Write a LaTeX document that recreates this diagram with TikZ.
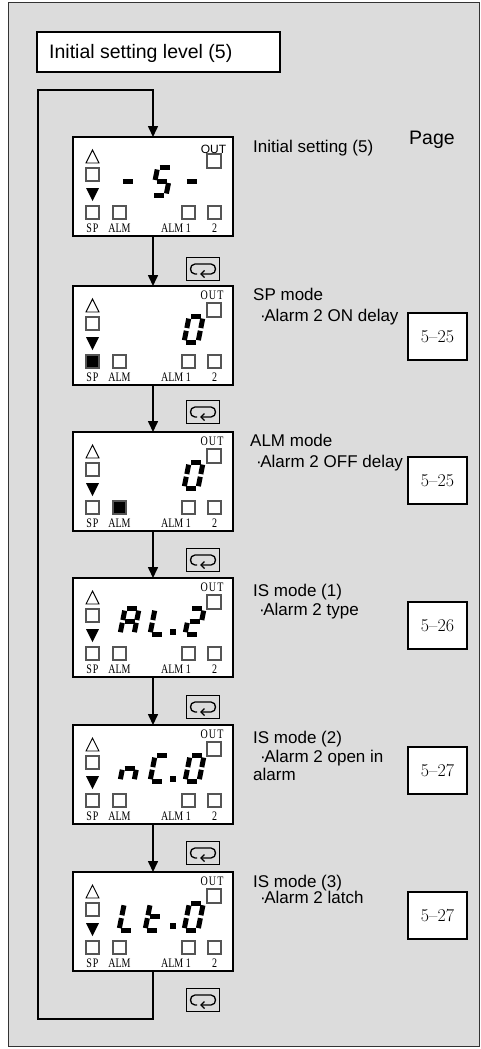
\documentclass[tikz,border=0pt]{standalone}
\usepackage{fontspec}
\setsansfont{Liberation Sans}
\newfontfamily\lcdfont[FakeStretch=0.77]{Liberation Serif}
\usetikzlibrary{arrows.meta}
\definecolor{bg}{HTML}{DCDCDC}
\definecolor{sqgray}{HTML}{555555}
\tikzset{
  lcdbox/.style={draw=black, line width=1.3pt, fill=white, minimum width=160pt, minimum height=99pt, inner sep=0pt, outer sep=0pt},
  keybox/.style={draw=black, line width=1pt, minimum width=33pt, minimum height=23pt, inner sep=0pt, outer sep=0pt},
  pagebox/.style={draw=black, line width=1.2pt, fill=white, minimum width=59pt, minimum height=47pt, inner sep=0pt, font=\rmfamily\fontsize{18}{20}\selectfont},
  lbl/.style={font=\sffamily\fontsize{17}{20}\selectfont, anchor=base west, inner sep=0pt},
  sq/.style={draw=sqgray, line width=1.1pt},
  lcdlbl/.style={font=\lcdfont\fontsize{13}{14}\selectfont, anchor=base, inner sep=0pt},
  flow/.style={line width=1.6pt, -{Triangle[width=10pt,length=11pt]}},
}
\newcommand\digit[4][1]{\begin{scope}[shift={(#2,#3)},x=1pt,y=#1pt,xslant=0.2,line width=5pt]
 \foreach \s in {#4}{\csname seg\s\endcsname}\end{scope}}
\def\sega{\draw (2,28)--(12,28);}
\def\segb{\draw (14,26)--(14,15.5);}
\def\segc{\draw (14,12.5)--(14,2);}
\def\segd{\draw (2,0)--(12,0);}
\def\sege{\draw (0,12.5)--(0,2);}
\def\segf{\draw (0,26)--(0,15.5);}
\def\segg{\draw (2,14)--(12,14);}
\newcommand\bul{·\kern-1.5pt}
\newcommand\lcdpanel[5]{%
  \begin{scope}[shift={(#1.north west)}]
    \draw[line width=0.9pt] (13,26)--(26,26)--(19.5,13)--cycle;
    \draw[sq] (13,31) rectangle (26,44);
    \fill (13,51)--(26,51)--(19.5,64)--cycle;
    \draw[sq,fill=#2] (13,69) rectangle (26,82);
    \draw[sq,fill=#3] (40,69) rectangle (53,82);
    \draw[sq] (109,69) rectangle (122,82);
    \draw[sq] (135,69) rectangle (148,82);
    \draw[sq] (134,17) rectangle (148,31);
    \node[lcdlbl] (#1-sp) at (19.5,95) {S\kern1pt P};
    \node[lcdlbl] (#1-alm) at (46.5,95) {ALM};
    \node[lcdlbl] (#1-alm1) at (103,95) {ALM\kern2.5pt 1};
    \node[lcdlbl] (#1-two) at (141.5,95) {2};
    #4
    #5
  \end{scope}}
\newcommand\sansout[1]{\node[font=\sffamily\fontsize{12}{13}\selectfont, anchor=base, inner sep=0pt] (#1-out) at (140.5,16) {OUT};}
\newcommand\serifout[1]{\node[lcdlbl] (#1-out) at (139,13) {O\kern1.2pt U\kern1.2pt T};}
\newcommand\dotseg{\fill (97,51) rectangle (103,57);}
\newcommand\keyicon[1]{%
  \begin{scope}[shift={(#1.north west)}, line width=1.3pt]
    \draw (11,17) -- (9,17) .. controls (3,17) and (3,7) .. (9,7) -- (25,7) .. controls (31,7) and (31,17) .. (25,17) -- (15,17);
    \draw (18.5,13.5) -- (15,17) -- (18.5,20.5);
  \end{scope}}
\begin{document}
\begin{tikzpicture}[x=1pt,y=-1pt]
\useasboundingbox (0,0) rectangle (481,1049);
\fill[white] (0,0) rectangle (481,1049);
\draw[fill=bg, draw=black!80, line width=1pt] (8.5,3) rectangle (479.5,1046);

\node[draw=black, line width=1.2pt, fill=white, minimum width=243pt, minimum height=40pt, inner sep=0pt] (title) at (158.5,52) {};
\node[font=\sffamily\fontsize{19.5}{22}\selectfont, anchor=base west, inner sep=0pt] (titletext) at (49,59) {Initial setting level (5)};
\node[font=\sffamily\fontsize{19.5}{22}\selectfont, anchor=base west, inner sep=0pt] (page) at (409,144) {Page};

% LCD displays
\node[lcdbox] (l1) at (153,186.5) {};
\node[lcdbox] (l2) at (153,335.5) {};
\node[lcdbox] (l3) at (153,481.5) {};
\node[lcdbox] (l4) at (153,627.5) {};
\node[lcdbox] (l5) at (153,774.5) {};
\node[lcdbox] (l6) at (153,921.5) {};

\lcdpanel{l1}{white}{white}{\sansout{l1}}{\digit{45}{58.5}{g}\digit{79}{58.5}{a,f,g,c,d}\digit{109}{58.5}{g}}
\lcdpanel{l2}{black}{white}{\serifout{l2}}{\digit[0.9]{111}{56}{a,b,c,d,e,f}}
\lcdpanel{l3}{white}{black}{\serifout{l3}}{\digit[0.9]{111}{56}{a,b,c,d,e,f}}
\lcdpanel{l4}{white}{white}{\serifout{l4}}{\digit[0.9]{47}{56}{a,b,c,e,f,g}\digit[0.9]{77}{56}{d,e,f}\dotseg\digit[0.9]{112}{56}{a,b,g,e,d}}
\lcdpanel{l5}{white}{white}{\serifout{l5}}{\digit[0.9]{47}{56}{c,e,g}\digit[0.9]{77}{56}{a,d,e,f}\dotseg\digit[0.9]{112}{56}{a,b,c,d,e,f}}
\lcdpanel{l6}{white}{white}{\serifout{l6}}{\digit[0.95]{46}{58}{d,e,f}\digit[0.95]{72}{58}{d,e,f,g}\dotseg\digit[0.95]{111}{58}{a,b,c,d,e,f}}

% key icons
\node[keybox] (k1) at (202.5,268.5) {};
\node[keybox] (k2) at (202.5,411.5) {};
\node[keybox] (k3) at (202.5,559.5) {};
\node[keybox] (k4) at (202.5,706.5) {};
\node[keybox] (k5) at (202.5,852.5) {};
\node[keybox] (k6) at (202.5,999.5) {};
\foreach \k in {k1,k2,k3,k4,k5,k6}{\keyicon{\k}}

% connectors
\coordinate (lt) at (38,90);
\coordinate (lb) at (38,1019);
\draw[flow] (l6.south) |- (lb) -- (lt) -| (l1.north);
\draw[flow] (l1.south) -- (l2.north);
\draw[flow] (l2.south) -- (l3.north);
\draw[flow] (l3.south) -- (l4.north);
\draw[flow] (l4.south) -- (l5.north);
\draw[flow] (l5.south) -- (l6.north);

% labels
\node[lbl] (t1) at (253,152) {Initial setting (5)};
\node[lbl] (t2a) at (253,300) {SP mode};
\node[lbl] (t2b) at (260,321) {\bul Alarm 2 ON delay};
\node[lbl] (t3a) at (250,446) {ALM mode};
\node[lbl] (t3b) at (256,467) {\bul Alarm 2 OFF delay};
\node[lbl] (t4a) at (253,596) {IS mode (1)};
\node[lbl] (t4b) at (259,615) {\bul Alarm 2 type};
\node[lbl] (t5a) at (253,743) {IS mode (2)};
\node[lbl] (t5b) at (260,762) {\bul Alarm 2 open in};
\node[lbl] (t5c) at (253,780) {alarm};
\node[lbl] (t6a) at (253,887) {IS mode (3)};
\node[lbl] (t6b) at (260,903) {\bul Alarm 2 latch};

% page boxes
\node[pagebox] (p2) at (437.5,336.5) {5--25};
\node[pagebox] (p3) at (437.5,480.5) {5--25};
\node[pagebox] (p4) at (437.5,625.5) {5--26};
\node[pagebox] (p5) at (437.5,770.5) {5--27};
\node[pagebox] (p6) at (437.5,915.5) {5--27};
\end{tikzpicture}
\end{document}
